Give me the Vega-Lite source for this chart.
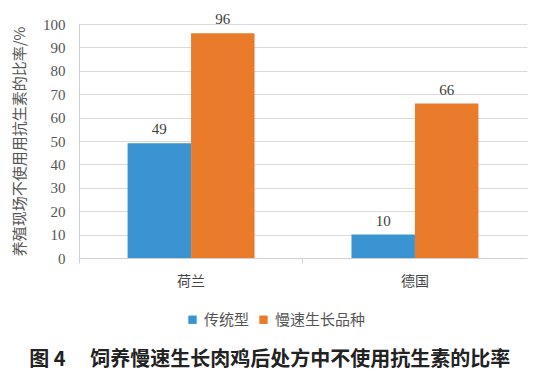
{
  "$schema": "https://vega.github.io/schema/vega-lite/v6.json",
  "width": 448,
  "height": 234,
  "autosize": {"type": "none"},
  "padding": {"left": 79, "top": 24, "right": 17, "bottom": 121},
  "background": "#ffffff",
  "config": {
    "view": {"stroke": null},
    "font": "Liberation Serif"
  },
  "title": {
    "text": "图 4　 饲养慢速生长肉鸡后处方中不使用抗生素的比率",
    "orient": "bottom",
    "anchor": "middle",
    "frame": "bounds",
    "offset": 22,
    "font": "Noto Sans CJK SC",
    "fontSize": 20,
    "fontWeight": "bold",
    "color": "#222222"
  },
  "data": {
    "values": [
      {"country": "荷兰", "type": "传统型", "value": 49},
      {"country": "荷兰", "type": "慢速生长品种", "value": 96},
      {"country": "德国", "type": "传统型", "value": 10},
      {"country": "德国", "type": "慢速生长品种", "value": 66}
    ]
  },
  "encoding": {
    "x": {
      "field": "country",
      "type": "nominal",
      "sort": ["荷兰", "德国"],
      "scale": {"paddingInner": 0.433, "paddingOuter": 0.217},
      "axis": {
        "title": null,
        "labelAngle": 0,
        "labelFont": "Noto Sans CJK SC",
        "labelFontSize": 14,
        "labelColor": "#444444",
        "labelPadding": 11,
        "domainColor": "#d0d0d0",
        "tickColor": "#d0d0d0",
        "tickSize": 5,
        "bandPosition": -0.382,
        "grid": false
      }
    },
    "xOffset": {"field": "type", "type": "nominal", "sort": ["传统型", "慢速生长品种"]},
    "y": {
      "field": "value",
      "type": "quantitative",
      "scale": {"domain": [0, 100]},
      "axis": {
        "values": [0, 10, 20, 30, 40, 50, 60, 70, 80, 90, 100],
        "title": "养殖现场不使用用抗生素的比率/%",
        "titleFont": "Noto Sans CJK SC",
        "titleFontSize": 15,
        "titleFontWeight": "normal",
        "titleColor": "#555555",
        "titlePadding": 15,
        "labelFont": "Liberation Serif",
        "labelFontSize": 15,
        "labelColor": "#555555",
        "labelPadding": 14,
        "ticks": false,
        "domain": true,
        "domainColor": "#d0d0d0",
        "gridColor": "#d9d9d9",
        "grid": true
      }
    }
  },
  "layer": [
    {
      "mark": {"type": "bar"},
      "encoding": {
        "color": {
          "field": "type",
          "type": "nominal",
          "sort": ["传统型", "慢速生长品种"],
          "scale": {"domain": ["传统型", "慢速生长品种"], "range": ["#3994d1", "#e97b2b"]},
          "legend": {
            "title": null,
            "orient": "none",
            "direction": "horizontal",
            "legendX": 106,
            "legendY": 288,
            "symbolType": "square",
            "symbolSize": 70,
            "symbolStrokeWidth": 0,
            "labelFont": "Noto Sans CJK SC",
            "labelFontSize": 15,
            "labelColor": "#555555",
            "columnPadding": 6,
            "labelOffset": 4
          }
        }
      }
    },
    {
      "mark": {"type": "text", "baseline": "bottom", "dy": -6, "font": "Liberation Serif", "fontSize": 15, "color": "#404040"},
      "encoding": {
        "text": {"field": "value", "type": "quantitative"}
      }
    }
  ]
}
